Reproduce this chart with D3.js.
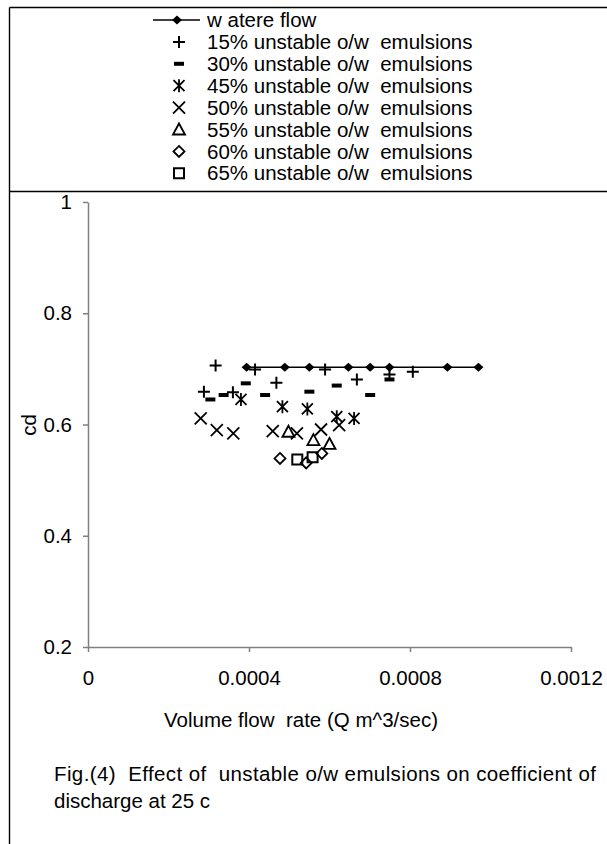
<!DOCTYPE html>
<html>
<head>
<meta charset="utf-8">
<script src="https://cdn.jsdelivr.net/npm/d3@7"></script>
<style>
  html, body { margin: 0; padding: 0; background: #fff; }
  svg { display: block; font-family: "Liberation Sans", Arial, sans-serif; }
  svg text { white-space: pre; }
</style>
</head>
<body>
<svg id="chart" width="607" height="844"></svg>
<script>
// Coefficient of discharge (cd) against volume flow rate Q (m^3/sec)
const waterQ  = [0.000394, 0.000489, 0.000550, 0.000647, 0.000701, 0.000749, 0.000893, 0.000970];
const waterCd = [0.703, 0.703, 0.703, 0.703, 0.703, 0.703, 0.703, 0.703];

const q15  = [0.000288, 0.000317, 0.000360, 0.000415, 0.000468, 0.000589, 0.000668, 0.000749, 0.000807];
const cd15 = [0.659, 0.706, 0.658, 0.699, 0.675, 0.699, 0.681, 0.690, 0.695];

const q30  = [0.000304, 0.000337, 0.000392, 0.000440, 0.000550, 0.000618, 0.000701, 0.000749];
const cd30 = [0.645, 0.653, 0.674, 0.653, 0.659, 0.670, 0.653, 0.681];

const q45  = [0.000380, 0.000483, 0.000545, 0.000618, 0.000661];
const cd45 = [0.645, 0.632, 0.628, 0.614, 0.611];

const q50  = [0.000280, 0.000320, 0.000361, 0.000459, 0.000519, 0.000579, 0.000624];
const cd50 = [0.611, 0.590, 0.584, 0.588, 0.584, 0.591, 0.599];

const q55  = [0.000498, 0.000560, 0.000600];
const cd55 = [0.587, 0.572, 0.565];

const q60  = [0.000477, 0.000542, 0.000581];
const cd60 = [0.539, 0.531, 0.548];

const q65  = [0.000520, 0.000558];
const cd65 = [0.537, 0.541];

const xTicks = [0, 0.0004, 0.0008, 0.0012];
const xTickLabels = ["0", "0.0004", "0.0008", "0.0012"];
const yTicks = [0.2, 0.4, 0.6, 0.8, 1];
const yTickLabels = ["0.2", "0.4", "0.6", "0.8", "1"];

const legendLabels = [
  "w atere flow",
  "15% unstable o/w  emulsions",
  "30% unstable o/w  emulsions",
  "45% unstable o/w  emulsions",
  "50% unstable o/w  emulsions",
  "55% unstable o/w  emulsions",
  "60% unstable o/w  emulsions",
  "65% unstable o/w  emulsions"
];
const xTitle = "Volume flow  rate (Q m^3/sec)";
const yTitle = "cd";
const captionLines = [
  "Fig.(4)  Effect of  unstable o/w emulsions on coefficient of",
  "discharge at 25 c"
];

const svg = d3.select("#chart");
const FONT = 20.5;

// marker shapes (all drawn in black)
const shapes = {
  water:    { d: "M0,-4.5L5,0L0,4.5L-5,0Z", fill: "#000", sw: 0 },
  plus:     { d: "M-6,0H6M0,-6V6", fill: "none", sw: 2 },
  dash:     { d: "M-5,-2H5V2H-5Z", fill: "#000", sw: 0 },
  asterisk: { d: "M-5.5,-5.5L5.5,5.5M-5.5,5.5L5.5,-5.5M0,-6.5V6.5", fill: "none", sw: 1.8 },
  cross:    { d: "M-6,-6L6,6M-6,6L6,-6", fill: "none", sw: 1.8 },
  triangle: { d: "M0,-6L6,5H-6Z", fill: "none", sw: 1.8 },
  diamond:  { d: "M0,-5.5L5.5,0L0,5.5L-5.5,0Z", fill: "none", sw: 1.8 },
  square:   { d: "M-5,-5H5V5H-5Z", fill: "none", sw: 2 }
};

const series = [
  { q: q15, cd: cd15, shape: "plus" },
  { q: q30, cd: cd30, shape: "dash" },
  { q: q45, cd: cd45, shape: "asterisk" },
  { q: q50, cd: cd50, shape: "cross" },
  { q: q55, cd: cd55, shape: "triangle" },
  { q: q60, cd: cd60, shape: "diamond" },
  { q: q65, cd: cd65, shape: "square" }
];

function drawMarker(sel, shapeName) {
  const s = shapes[shapeName];
  sel.attr("d", s.d)
     .attr("fill", s.fill)
     .attr("stroke", s.sw ? "#000" : "none")
     .attr("stroke-width", s.sw);
}

// frame lines around the figure
const frame = svg.append("g").attr("stroke", "#000").attr("stroke-width", 1.4);
frame.append("line").attr("x1", 9.5).attr("x2", 607).attr("y1", 7.5).attr("y2", 7.5);
frame.append("line").attr("x1", 9.5).attr("x2", 9.5).attr("y1", 7.5).attr("y2", 844);
frame.append("line").attr("x1", 9.5).attr("x2", 607).attr("y1", 191.5).attr("y2", 191.5);

// scales
const x = d3.scaleLinear().domain([0, 0.0012]).range([88, 571]);
const y = d3.scaleLinear().domain([0.2, 1]).range([647, 202]);

// axes
const axisColor = "#808080";
const gx = svg.append("g").attr("transform", `translate(0,${y(0.2)})`)
  .call(d3.axisBottom(x).tickValues(xTicks).tickFormat((d, i) => xTickLabels[i])
    .tickSizeInner(5).tickSizeOuter(0).tickPadding(18));
const gy = svg.append("g").attr("transform", `translate(${x(0)},0)`)
  .call(d3.axisLeft(y).tickValues(yTicks).tickFormat((d, i) => yTickLabels[i])
    .tickSizeInner(5).tickSizeOuter(0).tickPadding(11));
[gx, gy].forEach(g => {
  g.select(".domain").attr("stroke", axisColor).attr("stroke-width", 1.5);
  g.selectAll(".tick line").attr("stroke", axisColor).attr("stroke-width", 1.5);
  g.selectAll(".tick text").attr("fill", "#000")
    .style("font-family", "'Liberation Sans', Arial, sans-serif").style("font-size", FONT + "px");
});

// water flow line with filled diamonds
const waterPts = waterQ.map((q, i) => [q, waterCd[i]]);
svg.append("path")
  .datum(waterPts)
  .attr("fill", "none").attr("stroke", "#000").attr("stroke-width", 1.5)
  .attr("d", d3.line().x(d => x(d[0])).y(d => y(d[1])));
svg.append("g").selectAll("path").data(waterPts).join("path")
  .attr("transform", d => `translate(${x(d[0])},${y(d[1])})`)
  .call(drawMarker, "water");

// emulsion series as markers only
series.forEach(s => {
  const pts = s.q.map((q, i) => [q, s.cd[i]]);
  svg.append("g").selectAll("path").data(pts).join("path")
    .attr("transform", d => `translate(${x(d[0])},${y(d[1])})`)
    .call(drawMarker, s.shape);
});

// legend
const legendShapes = ["water", "plus", "dash", "asterisk", "cross", "triangle", "diamond", "square"];
const leg = svg.append("g");
legendLabels.forEach((label, i) => {
  const cy = 20 + i * 21.9;
  if (i === 0) {
    leg.append("line").attr("x1", 153).attr("x2", 200).attr("y1", cy).attr("y2", cy)
      .attr("stroke", "#000").attr("stroke-width", 1.5);
    leg.append("path").attr("transform", `translate(177,${cy})`).call(drawMarker, "water");
  } else {
    leg.append("path").attr("transform", `translate(179,${cy})`).call(drawMarker, legendShapes[i]);
  }
  leg.append("text").attr("x", 207).attr("y", cy).attr("dy", "0.35em")
    .style("font-size", FONT + "px").text(label);
});

// axis titles
svg.append("text").attr("x", 301).attr("y", 727).attr("text-anchor", "middle")
  .style("font-size", FONT + "px").text(xTitle);
svg.append("text").attr("transform", "translate(36,425) rotate(-90)").attr("text-anchor", "middle")
  .style("font-size", FONT + "px").text(yTitle);

// caption
captionLines.forEach((line, i) => {
  const t = svg.append("text").attr("x", 54).attr("y", 781 + i * 27)
    .style("font-size", FONT + "px").text(line);
  if (i === 0) t.attr("textLength", 542).attr("lengthAdjust", "spacing");
});
</script>
</body>
</html>
